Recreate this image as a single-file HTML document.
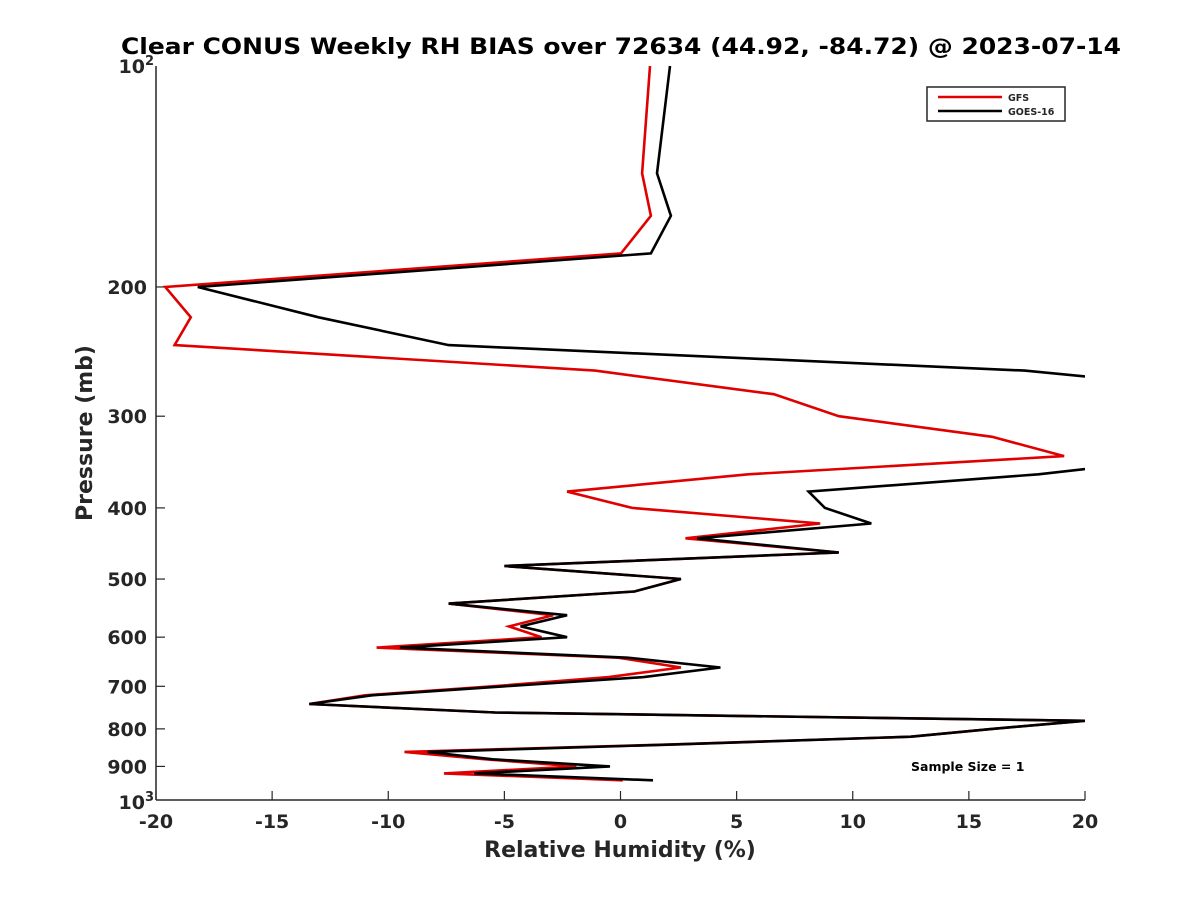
<!DOCTYPE html>
<html><head><meta charset="utf-8"><style>
body{margin:0;background:#fff;}
svg text{font-family:"DejaVu Sans","Liberation Sans",sans-serif;font-weight:bold;fill:#262626;}
</style></head><body>
<svg id="chart" width="1200" height="900" xmlns="http://www.w3.org/2000/svg">
<defs><clipPath id="plotclip"><rect x="156" y="60" width="929" height="740"/></clipPath></defs>
<rect width="1200" height="900" fill="#fff"/>
<text x="621" y="54" font-size="22" text-anchor="middle" textLength="1000" lengthAdjust="spacingAndGlyphs" style="fill:#000">Clear CONUS Weekly RH BIAS over 72634 (44.92, -84.72) @ 2023-07-14</text>
<g id="axes"></g>
<g id="series" clip-path="url(#plotclip)"></g>
<g>
<rect x="927" y="87" width="138" height="34" fill="#fff" stroke="#262626" stroke-width="1.5"/>
<line x1="938" y1="97" x2="1002" y2="97" stroke="#e00000" stroke-width="2.5"/>
<text x="1008" y="101" font-size="9.5">GFS</text>
<line x1="938" y1="111" x2="1002" y2="111" stroke="#000" stroke-width="2.5"/>
<text x="1008" y="115" font-size="9.5">GOES-16</text>
</g>
<text x="911" y="771" font-size="12.5" style="fill:#000">Sample Size = 1</text>
<text x="620" y="857" font-size="22" text-anchor="middle">Relative Humidity (%)</text>
<text transform="translate(92,433) rotate(-90)" font-size="22" text-anchor="middle">Pressure (mb)</text>
</svg>
<script>
const pressures=[100,140,160,180,200,220,240,260,280,300,320,340,360,380,400,420,440,460,480,500,520,540,560,580,600,620,640,660,680,700,720,740,760,780,800,820,840,860,880,900,920,940];
const gfsBias=[1.27,0.93,1.31,0.02,-19.6,-18.5,-19.2,-1.1,6.6,9.4,16.0,19.1,5.5,-2.3,0.5,8.6,2.8,9.4,-5.0,2.6,0.6,-7.4,-2.9,-4.8,-3.4,-10.5,-0.1,2.6,-0.5,-5.5,-11.0,-13.4,-5.4,20,16,12.5,2.2,-9.3,-5.8,-1.9,-7.6,0.1];
const goesBias=[2.13,1.57,2.17,1.31,-18.2,-13.0,-7.4,17.4,28,30,30,25,18.0,8.1,8.8,10.8,3.3,9.4,-5.0,2.6,0.6,-7.4,-2.3,-4.3,-2.3,-9.5,0.3,4.3,1.0,-5.0,-10.7,-13.4,-5.4,20,16,12.5,2.4,-8.3,-5.5,-0.45,-6.3,1.4];
const xTicks=[-20,-15,-10,-5,0,5,10,15,20];
const yTicks=[200,300,400,500,600,700,800,900];
const L=156,R=1085,T=66,B=800,XMIN=-20,XMAX=20;
function xs(v){return L+(v-XMIN)/(XMAX-XMIN)*(R-L);}
function ys(p){return T+(Math.log10(p)-2)*(B-T);}
const NS="http://www.w3.org/2000/svg";
function mk(tag,attrs,parent){const e=document.createElementNS(NS,tag);for(const k in attrs)e.setAttribute(k,attrs[k]);parent.appendChild(e);return e;}
const axes=document.getElementById('axes');
const xAxis=mk('line',{x1:L,y1:B,x2:R,y2:B,stroke:'#262626','stroke-width':1.5},axes);


const yAxis=mk('line',{x1:L,y1:T,x2:L,y2:B,stroke:'#262626','stroke-width':1.5},axes);


xTicks.forEach(v=>{
  const x=xs(v);
  const t=mk('line',{x1:x,y1:B,x2:x,y2:B-9,stroke:'#262626','stroke-width':1.2},axes);
  
  
  const lb=mk('text',{x:x,y:B+28,'font-size':19,'text-anchor':'middle'},axes);
  lb.textContent=String(v);
  
  
});
yTicks.forEach(p=>{
  const y=ys(p);
  const t=mk('line',{x1:L,y1:y,x2:L+9,y2:y,stroke:'#262626','stroke-width':1.2},axes);
  
  
  const lb=mk('text',{x:L-9,y:y+7,'font-size':19,'text-anchor':'end'},axes);
  lb.textContent=String(p);
  
  
});
[[100,'2'],[1000,'3']].forEach(([p,e])=>{
  const y=ys(p);
  const lb=mk('text',{x:L-11,y:y+(p===100?7:9),'font-size':19,'text-anchor':'end'},axes);
  lb.textContent='10';
  
  
  const sup=mk('text',{x:L-11,y:y+(p===100?-1:1),'font-size':13,'text-anchor':'start'},axes);
  sup.textContent=e;
  
  
});
const series=document.getElementById('series');
function drawLine(vals,color,name){
  const d=vals.map((v,i)=>(i?'L':'M')+xs(v).toFixed(1)+','+ys(pressures[i]).toFixed(1)).join(' ');
  const p=mk('path',{d:d,fill:'none',stroke:color,'stroke-width':2.6,'stroke-linejoin':'miter'},series);
  
  
}
drawLine(gfsBias,'#e00000','gfs-line');
drawLine(goesBias,'#000000','goes16-line');
</script>
</body></html>
